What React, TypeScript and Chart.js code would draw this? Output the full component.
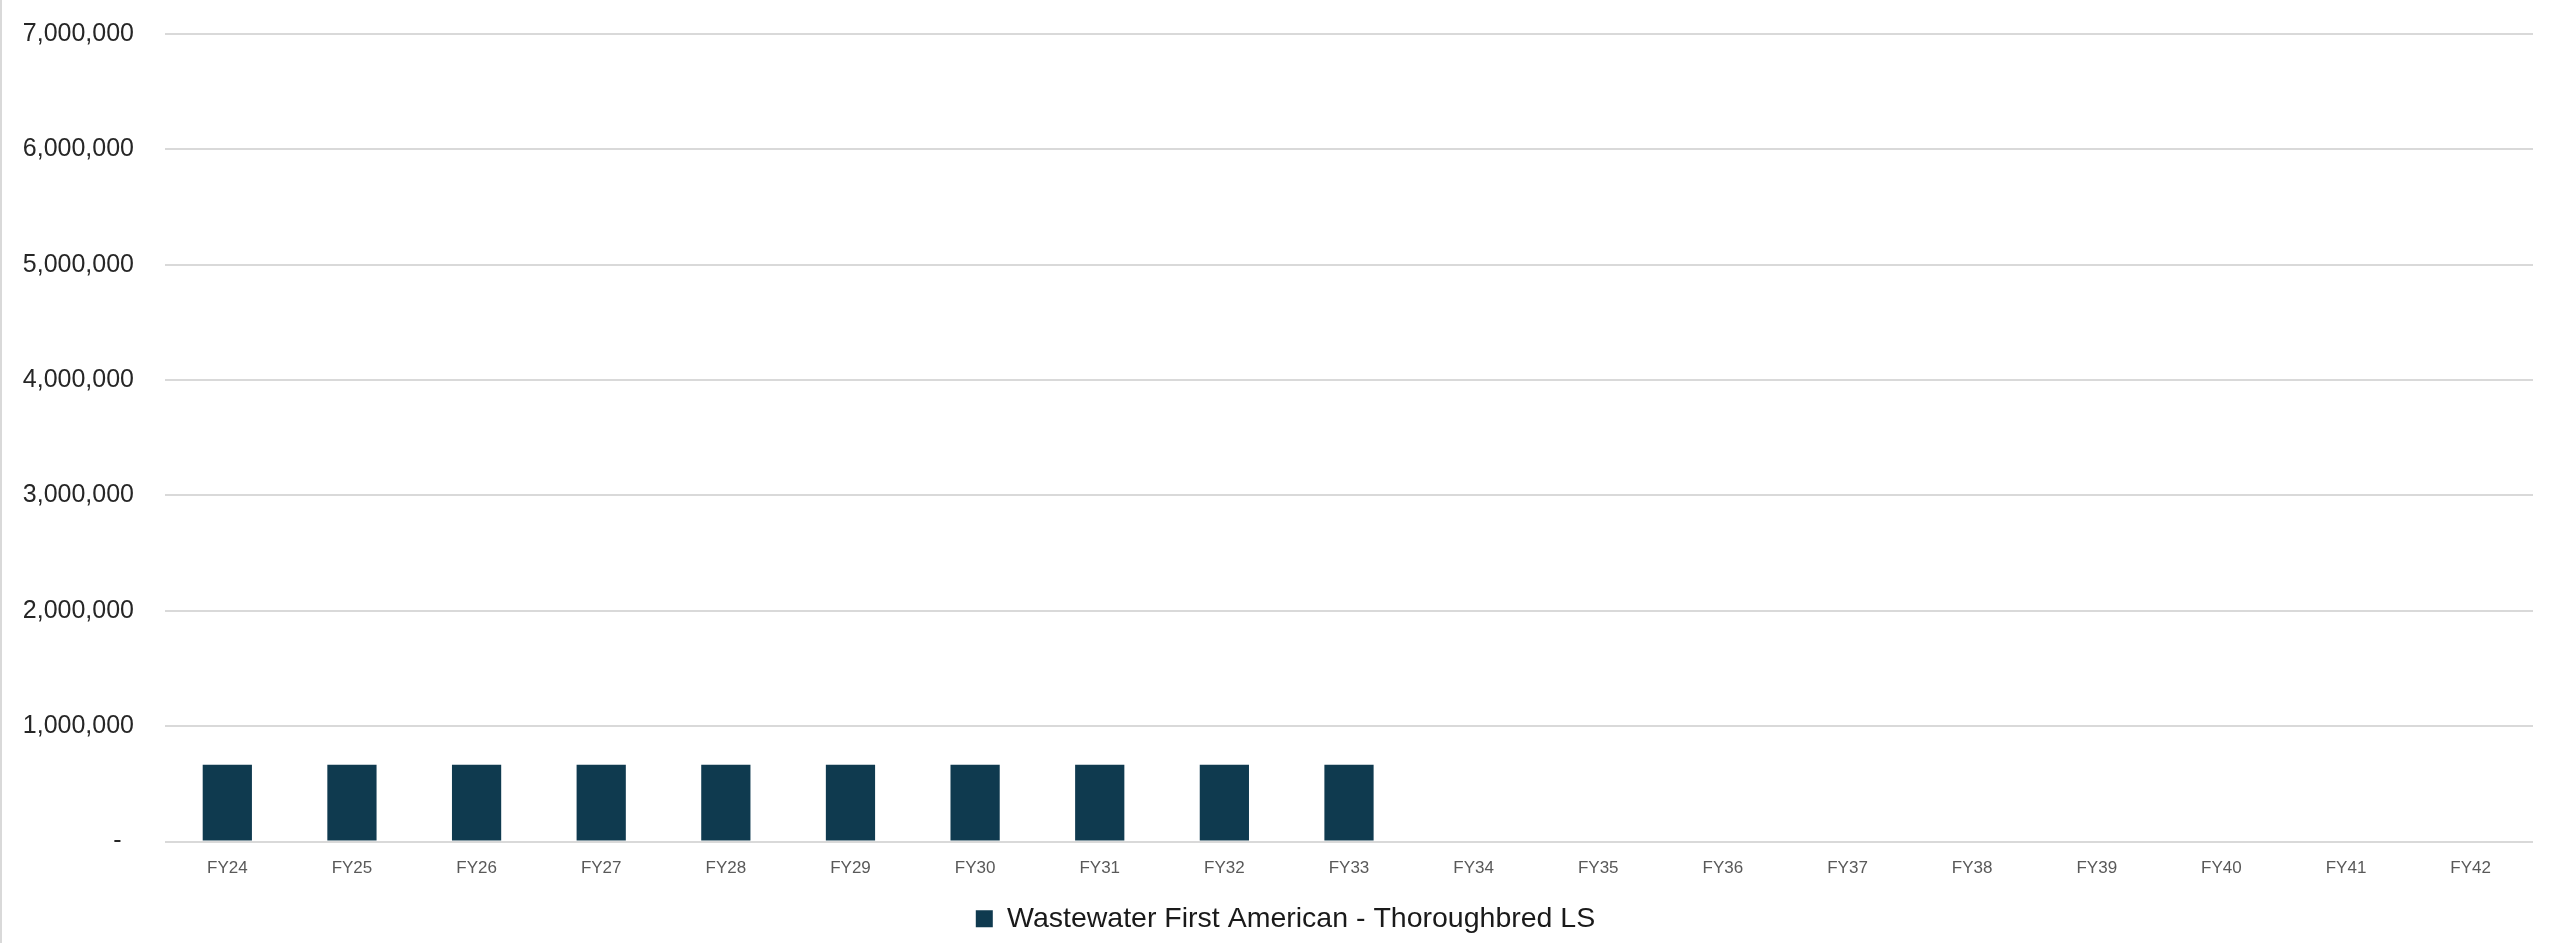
import React, { useEffect, useRef } from "react";
import { Chart, registerables } from "chart.js";

Chart.register(...registerables);

const categories = [
  "FY24", "FY25", "FY26", "FY27", "FY28", "FY29", "FY30", "FY31", "FY32", "FY33",
  "FY34", "FY35", "FY36", "FY37", "FY38", "FY39", "FY40", "FY41", "FY42",
];
const seriesName = "Wastewater First American - Thoroughbred LS";
const seriesValues: (number | null)[] = [
  665000, 665000, 665000, 665000, 665000, 665000, 665000, 665000, 665000, 665000,
  null, null, null, null, null, null, null, null, null,
];
const yMin = 0;
const yMax = 7000000;
const yStep = 1000000;

const FONT = '"Liberation Sans", Arial, sans-serif';

const legendShift = {
  id: "legendShift",
  afterLayout(chart: any) {
    const lg = chart.legend;
    if (lg) {
      lg.left += 18;
      lg.right += 18;
    }
  },
};

export default function App() {
  const ref = useRef<HTMLCanvasElement | null>(null);

  useEffect(() => {
    document.body.style.margin = "0";
    if (!ref.current) return;
    const chart = new Chart(ref.current, {
      type: "bar",
      data: {
        labels: categories,
        datasets: [
          {
            label: seriesName,
            data: seriesValues,
            backgroundColor: "#0f3a4f",
            borderWidth: 0,
            categoryPercentage: 1,
            barPercentage: 0.395,
          },
        ],
      },
      options: {
        responsive: false,
        animation: false,
        layout: { padding: { top: 34, right: 21, bottom: 0, left: 0 } },
        plugins: {
          title: { display: false },
          tooltip: { enabled: false },
          legend: {
            display: true,
            position: "bottom",
            labels: {
              font: { family: FONT, size: 28.5 },
              color: "#1a1a1a",
              boxWidth: 17,
              boxHeight: 17,
              padding: 6,
            },
          },
        },
        scales: {
          x: {
            grid: { display: false, drawTicks: false },
            border: { display: false },
            ticks: {
              font: { family: FONT, size: 17 },
              color: "#595959",
              padding: 17,
              maxRotation: 0,
              autoSkip: false,
            },
            afterFit: (scale: any) => {
              scale.height = 57;
            },
          },
          y: {
            min: yMin,
            max: yMax,
            grid: { color: "#d9d9d9", lineWidth: 2, drawTicks: false },
            border: { display: false },
            ticks: {
              stepSize: yStep,
              font: { family: FONT, size: 25, lineHeight: 0.2 },
              color: "#262626",
              padding: 31,
              callback: (v: any) =>
                Number(v) === 0 ? "-\u2002" : Number(v).toLocaleString("en-US"),
            },
            afterFit: (scale: any) => {
              scale.width = 163;
            },
          },
        },
      },
      plugins: [legendShift],
    });
    return () => chart.destroy();
  }, []);

  return (
    <div
      style={{
        position: "fixed",
        left: 0,
        top: 0,
        width: 2554,
        height: 943,
        boxSizing: "border-box",
        borderLeft: "2px solid #d9d9d9",
        background: "#fff",
        overflow: "hidden",
      }}
    >
      <canvas ref={ref} width={2552} height={943} style={{ display: "block" }} />
    </div>
  );
}
